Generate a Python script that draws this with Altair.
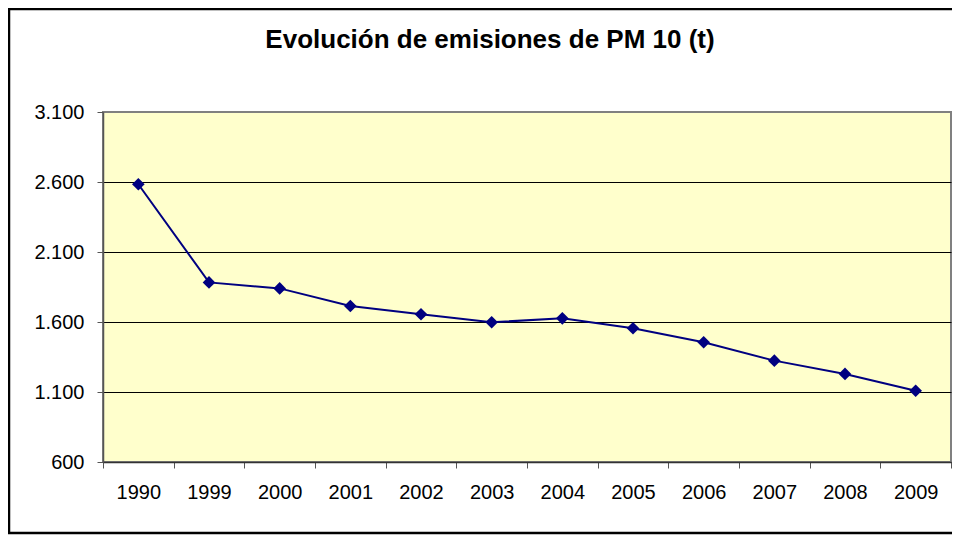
import altair as alt
import pandas as pd

years = ["1990", "1999", "2000", "2001", "2002", "2003", "2004", "2005", "2006", "2007", "2008", "2009"]
values = [2584, 1883, 1840, 1714, 1655, 1598, 1626, 1555, 1455, 1324, 1229, 1109]
y_ticks = [600, 1100, 1600, 2100, 2600, 3100]
title_text = "Evolución de emisiones de PM 10 (t)"

df = pd.DataFrame({"year": years, "value": values})

W, H = 848, 350
FONT = "Liberation Sans"

x_enc = alt.X(
    "year:N", sort=years, title=None,
    scale=alt.Scale(paddingInner=0, paddingOuter=0),
    axis=alt.Axis(
        labelAngle=0, tickBand="extent", tickSize=6, tickColor="#555555",
        domainColor="#333333", domainWidth=1.5, labelPadding=14,
        labelFont=FONT, labelFontSize=20, labelColor="black", grid=False,
    ),
)
y_enc = alt.Y(
    "value:Q", title=None,
    scale=alt.Scale(domain=[600, 3100], nice=False, zero=False),
    axis=alt.Axis(
        values=y_ticks, tickSize=6, tickColor="#555555", domainColor="#555555",
        domainWidth=1.5, labelPadding=13, labelFont=FONT, labelFontSize=20,
        labelColor="black",
        labelExpr="replace(format(datum.value, ','), ',', '.')",
        grid=True,
        gridColor={"condition": {"test": "datum.value == 3100", "value": "#808080"}, "value": "black"},
        gridWidth=1,
    ),
)

line = alt.Chart(df).mark_line(color="#000080", strokeWidth=2).encode(x=x_enc, y=y_enc)
pts = alt.Chart(df).mark_point(shape="diamond", filled=True, size=160, color="#000080", opacity=1).encode(x=x_enc, y=y_enc)

title = alt.Chart(pd.DataFrame({"t": [title_text]})).mark_text(
    font=FONT, fontSize=26, fontWeight="bold", color="black", align="center", baseline="middle"
).encode(text="t:N", x=alt.value(387), y=alt.value(-72))

frame = alt.Chart(pd.DataFrame({"a": [0]})).mark_rect(
    fill="transparent", stroke="black", strokeWidth=2.5
).encode(x=alt.value(-94), x2=alt.value(900), y=alt.value(-103), y2=alt.value(421))

chart = alt.layer(line, pts, title, frame).properties(
    width=W, height=H,
    background="white",
    autosize=alt.AutoSizeParams(type="none"),
    padding={"left": 95, "top": 104, "right": 1, "bottom": 73},
).configure_view(
    fill="#FFFFCC", stroke="#808080", strokeWidth=2
)

chart.save("out.html", embed_options={"renderer": "svg", "actions": False})
